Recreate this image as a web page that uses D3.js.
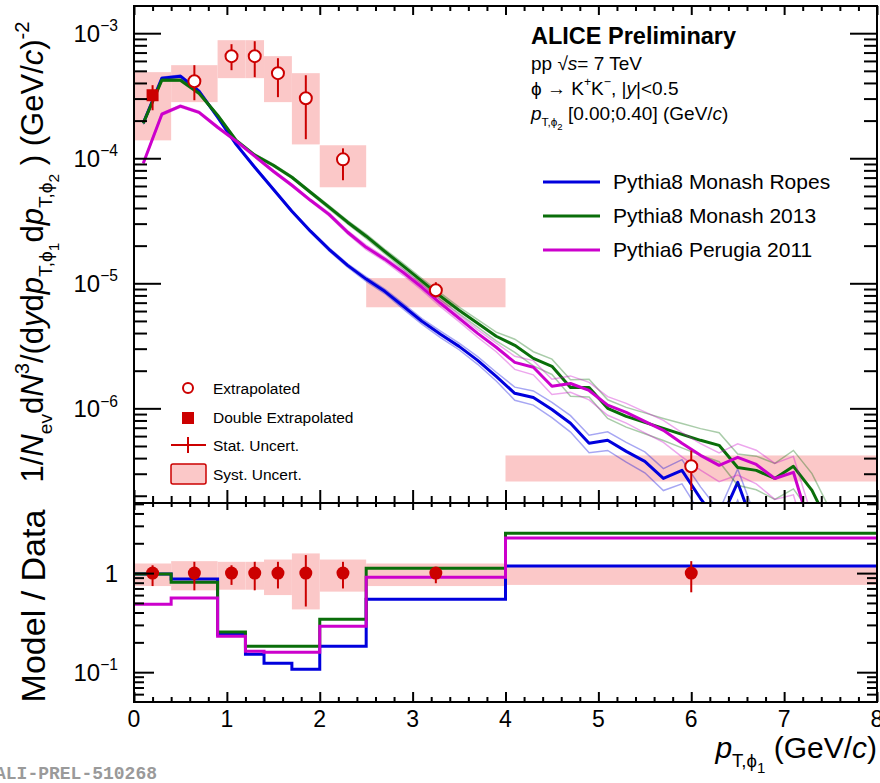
<!DOCTYPE html>
<html>
<head>
<meta charset="utf-8">
<script src="https://cdn.jsdelivr.net/npm/d3@7"></script>
<style>
  body { margin: 0; background: white; }
  svg { display: block; font-family: 'Liberation Sans', Arial, sans-serif; }
</style>
</head>
<body>
<svg id="chart"></svg>
<script>
// measured bins (GeV/c) and data points
const binEdges = [0, 0.4, 0.9, 1.2, 1.4, 1.7, 2.0, 2.5, 4.0, 8.0];
const binCenters = [0.2, 0.65, 1.05, 1.3, 1.55, 1.85, 2.25, 3.25, 6.0];
const dataVal = [3.19e-4, 4.13e-4, 6.55e-4, 6.55e-4, 4.79e-4, 3.02e-4, 9.8e-5, 8.79e-6, 3.44e-7];
const statHi = [3.84e-4, 5.55e-4, 8.17e-4, 8.63e-4, 6.31e-4, 4.61e-4, 1.2e-4, 1.02e-5, 4.6e-7];
const statLo = [2.42e-4, 2.91e-4, 5.06e-4, 4.45e-4, 3.08e-4, 1.42e-4, 6.67e-5, 7.7e-6, 2.2e-7];
const systHi = [4.88e-4, 5.55e-4, 8.79e-4, 8.79e-4, 6.55e-4, 4.79e-4, 1.27e-4, 1.1e-5, 4.2e-7];
const systLo = [1.39e-4, 2.81e-4, 4.37e-4, 4.37e-4, 2.81e-4, 1.29e-4, 5.86e-5, 6.43e-6, 2.6e-7];
const markerType = ['square', 'circle', 'circle', 'circle', 'circle', 'circle', 'circle', 'circle', 'circle'];

// model curves, pT bin centres
const mcPt = [0.1, 0.3, 0.5, 0.7, 0.9, 1.1, 1.3, 1.5, 1.7, 1.9, 2.1, 2.3, 2.5, 2.7, 2.9, 3.1, 3.3, 3.5, 3.7, 3.9,
  4.1, 4.3, 4.5, 4.7, 4.9, 5.1, 5.3, 5.5, 5.7, 5.9, 6.1, 6.3, 6.5, 6.7, 6.9, 7.1, 7.3, 7.5, 7.7, 7.9];
const ropes = [1.91e-4, 4.37e-4, 4.53e-4, 3.44e-4, 2.13e-4, 1.29e-4, 8.47e-5, 5.65e-5, 3.77e-5, 2.61e-5,
  1.87e-5, 1.39e-5, 1.08e-5, 8.63e-6, 6.55e-6, 4.97e-6, 3.91e-6, 3.13e-6, 2.42e-6, 1.8e-6,
  1.32e-6, 1.22e-6, 9.8e-7, 7.6e-7, 5.25e-7, 5.55e-7, 4.53e-7, 3.77e-7, 2.75e-7, 3.19e-7,
  1.9e-7, 1.2e-7, 2.56e-7, 1.0e-7, null, null, null, null, null, null];
const monash = [1.91e-4, 4.21e-4, 4.21e-4, 3.31e-4, 2.21e-4, 1.39e-4, 1.06e-4, 8.79e-5, 7.05e-5, 5.35e-5,
  4.06e-5, 3.08e-5, 2.38e-5, 1.8e-5, 1.37e-5, 1.04e-5, 7.87e-6, 6.08e-6, 4.79e-6, 3.77e-6,
  3.19e-6, 2.51e-6, 2.17e-6, 1.47e-6, 1.47e-6, 1.0e-6, 8.63e-7, 7.73e-7, 6.92e-7, 6.19e-7,
  5.55e-7, 5.06e-7, 3.37e-7, 3.19e-7, 2.75e-7, 3.44e-7, 2.21e-7, 1.1e-7, null, null];
const perugia = [9.12e-5, 2.25e-4, 2.61e-4, 2.33e-4, 1.77e-4, 1.37e-4, 1.04e-4, 7.87e-5, 6.08e-5, 4.61e-5,
  3.56e-5, 2.56e-5, 1.94e-5, 1.56e-5, 1.22e-5, 9.29e-6, 6.92e-6, 5.25e-6, 3.98e-6, 3.08e-6,
  2.33e-6, 2.13e-6, 1.5e-6, 1.58e-6, 1.39e-6, 1.06e-6, 9.29e-7, 7.87e-7, 6.67e-7, 5.25e-7,
  4.21e-7, 3.5e-7, 4.06e-7, 3.56e-7, 2.75e-7, 3.08e-7, 1.0e-7, null, null, null];
// relative statistical uncertainty of the model curves
const mcRelErr = [0.02, 0.02, 0.02, 0.02, 0.02, 0.02, 0.02, 0.02, 0.02, 0.02,
  0.03, 0.03, 0.04, 0.04, 0.05, 0.05, 0.06, 0.06, 0.07, 0.08,
  0.12, 0.13, 0.14, 0.15, 0.16, 0.17, 0.18, 0.19, 0.2, 0.22,
  0.24, 0.26, 0.28, 0.3, 0.32, 0.34, 0.36, 0.38, 0.4, 0.42];

// model / data ratios per measured bin
const ropesRatio = [0.98, 0.87, 0.24, 0.152, 0.123, 0.107, 0.183, 0.546, 1.18];
const monashRatio = [0.98, 0.81, 0.254, 0.183, 0.183, 0.183, 0.343, 1.12, 2.53];
const perugiaRatio = [0.486, 0.56, 0.23, 0.163, 0.159, 0.159, 0.29, 0.91, 2.26];
const dataRatio = [1, 1, 1, 1, 1, 1, 1, 1, 1];
const ratioStatHi = [1.2, 1.3, 1.2, 1.3, 1.3, 1.52, 1.3, 1.12, 1.32];
const ratioStatLo = [0.74, 0.67, 0.76, 0.67, 0.7, 0.46, 0.7, 0.79, 0.64];
const ratioSystHi = [1.25, 1.32, 1.3, 1.3, 1.37, 1.58, 1.37, 1.25, 1.2];
const ratioSystLo = [0.74, 0.67, 0.68, 0.68, 0.6, 0.43, 0.65, 0.74, 0.76];

const models = [
  { name: 'Pythia8 Monash Ropes', color: '#0000dd', values: ropes, ratio: ropesRatio },
  { name: 'Pythia8 Monash 2013', color: '#0a6e0a', values: monash, ratio: monashRatio },
  { name: 'Pythia6 Perugia 2011', color: '#cc00cc', values: perugia, ratio: perugiaRatio }
];

const xTicks = [0, 1, 2, 3, 4, 5, 6, 7, 8];
const topDecades = [1e-6, 1e-5, 1e-4, 1e-3];
const botDecades = [0.1, 1];

const RED = '#cc0000';
const PINK = '#fbc8c8';

function createGraph() {
  const width = 880, height = 783;
  const left = 134, right = 877;
  const top1 = 6, bot1 = 503, top2 = 503, bot2 = 702;

  const svg = d3.select('#chart');
  svg.selectAll('*').remove();
  svg.attr('width', width).attr('height', height).attr('viewBox', `0 0 ${width} ${height}`);

  const x = d3.scaleLinear().domain([0, 8]).range([left, right]);
  const yTop = d3.scaleLog().domain([1.75e-7, 1.65e-3]).range([bot1, top1]);
  const yBot = d3.scaleLog().domain([0.05, 5.1]).range([bot2, top2]);

  svg.append('defs').append('clipPath').attr('id', 'clipTop')
    .append('rect').attr('x', left).attr('y', top1).attr('width', right - left).attr('height', bot1 - top1);
  svg.select('defs').append('clipPath').attr('id', 'clipBot')
    .append('rect').attr('x', left).attr('y', top2).attr('width', right - left).attr('height', bot2 - top2);

  // ---------- top panel ----------
  const gTop = svg.append('g').attr('clip-path', 'url(#clipTop)');

  // syst boxes
  gTop.selectAll('rect.syst').data(dataVal).enter().append('rect')
    .attr('x', (d, i) => x(binEdges[i]))
    .attr('width', (d, i) => x(binEdges[i + 1]) - x(binEdges[i]))
    .attr('y', (d, i) => yTop(systHi[i]))
    .attr('height', (d, i) => yTop(systLo[i]) - yTop(systHi[i]))
    .attr('fill', PINK);

  // model curves with error bands
  models.forEach(m => {
    const pts = mcPt.map((p, i) => ({ p, v: m.values[i], e: mcRelErr[i] }));
    const line = k => d3.line().defined(d => d.v != null)
      .x(d => x(d.p)).y(d => yTop(d.v * (1 + k * d.e)));
    [1, -1].forEach(k => {
      gTop.append('path').datum(pts).attr('d', line(k))
        .attr('fill', 'none').attr('stroke', m.color).attr('stroke-opacity', 0.35).attr('stroke-width', 1.5);
    });
    gTop.append('path').datum(pts).attr('d', line(0))
      .attr('fill', 'none').attr('stroke', m.color).attr('stroke-width', 3).attr('stroke-linejoin', 'round');
  });

  // data points
  gTop.selectAll('line.stat').data(dataVal).enter().append('line')
    .attr('x1', (d, i) => x(binCenters[i])).attr('x2', (d, i) => x(binCenters[i]))
    .attr('y1', (d, i) => yTop(statHi[i])).attr('y2', (d, i) => yTop(statLo[i]))
    .attr('stroke', RED).attr('stroke-width', 2);
  dataVal.forEach((d, i) => {
    if (markerType[i] === 'square') {
      gTop.append('rect').attr('x', x(binCenters[i]) - 6).attr('y', yTop(d) - 6)
        .attr('width', 12).attr('height', 12).attr('fill', RED);
    } else {
      gTop.append('circle').attr('cx', x(binCenters[i])).attr('cy', yTop(d)).attr('r', 6)
        .attr('fill', 'white').attr('stroke', RED).attr('stroke-width', 2);
    }
  });

  // ---------- bottom panel ----------
  const gBot = svg.append('g').attr('clip-path', 'url(#clipBot)');
  gBot.selectAll('rect.syst').data(dataRatio).enter().append('rect')
    .attr('x', (d, i) => x(binEdges[i]))
    .attr('width', (d, i) => x(binEdges[i + 1]) - x(binEdges[i]))
    .attr('y', (d, i) => yBot(ratioSystHi[i]))
    .attr('height', (d, i) => yBot(ratioSystLo[i]) - yBot(ratioSystHi[i]))
    .attr('fill', PINK);

  const step = d3.line().curve(d3.curveStepAfter).x(d => x(d[0])).y(d => yBot(d[1]));
  models.forEach(m => {
    const pts = m.ratio.map((r, i) => [binEdges[i], r]);
    pts.push([8, m.ratio[m.ratio.length - 1]]);
    gBot.append('path').datum(pts).attr('d', step)
      .attr('fill', 'none').attr('stroke', m.color).attr('stroke-width', 3);
  });

  gBot.selectAll('line.stat').data(dataRatio).enter().append('line')
    .attr('x1', (d, i) => x(binCenters[i])).attr('x2', (d, i) => x(binCenters[i]))
    .attr('y1', (d, i) => yBot(ratioStatHi[i])).attr('y2', (d, i) => yBot(ratioStatLo[i]))
    .attr('stroke', RED).attr('stroke-width', 2);
  gBot.selectAll('circle.pt').data(dataRatio).enter().append('circle')
    .attr('cx', (d, i) => x(binCenters[i])).attr('cy', d => yBot(d)).attr('r', 6.5)
    .attr('fill', RED);

  // ---------- axes / ticks ----------
  const xMinor = d3.range(0, 8.01, 0.2).filter(v => Math.abs(v - Math.round(v)) > 1e-6);
  function logMinor(decades) {
    const out = [];
    decades.forEach(d => { for (let k = 2; k <= 9; k++) out.push(k * d / 10); });
    return out;
  }
  const topMinor = logMinor([1e-6, 1e-5, 1e-4, 1e-3, 1e-2]).filter(v => v > 1.75e-7 && v < 1.65e-3);
  const botMinor = logMinor([0.1, 1, 10]).filter(v => v > 0.05 && v < 5.1);

  function ticks(axisFn, scale, values, len, transform) {
    svg.append('g').attr('transform', transform)
      .call(axisFn(scale).tickValues(values).tickSize(-len).tickFormat(''))
      .call(g => g.select('.domain').remove())
      .selectAll('line').attr('stroke', 'black').attr('stroke-width', 2);
  }
  // top panel
  ticks(d3.axisBottom, x, xTicks, 13, `translate(0,${bot1})`);
  ticks(d3.axisBottom, x, xMinor, 7, `translate(0,${bot1})`);
  ticks(d3.axisTop, x, xTicks, 9, `translate(0,${top1})`);
  ticks(d3.axisTop, x, xMinor, 5, `translate(0,${top1})`);
  ticks(d3.axisLeft, yTop, topDecades, 27, `translate(${left},0)`);
  ticks(d3.axisLeft, yTop, topMinor, 13, `translate(${left},0)`);
  ticks(d3.axisRight, yTop, topDecades, 27, `translate(${right},0)`);
  ticks(d3.axisRight, yTop, topMinor, 13, `translate(${right},0)`);
  // bottom panel
  ticks(d3.axisBottom, x, xTicks, 10, `translate(0,${bot2})`);
  ticks(d3.axisBottom, x, xMinor, 5, `translate(0,${bot2})`);
  ticks(d3.axisTop, x, xTicks, 7, `translate(0,${top2})`);
  ticks(d3.axisTop, x, xMinor, 4, `translate(0,${top2})`);
  ticks(d3.axisLeft, yBot, botDecades, 20, `translate(${left},0)`);
  ticks(d3.axisLeft, yBot, botMinor, 10, `translate(${left},0)`);
  ticks(d3.axisRight, yBot, botDecades, 20, `translate(${right},0)`);
  ticks(d3.axisRight, yBot, botMinor, 10, `translate(${right},0)`);

  // frames
  svg.append('rect').attr('x', left).attr('y', top1).attr('width', right - left).attr('height', bot1 - top1)
    .attr('fill', 'none').attr('stroke', 'black').attr('stroke-width', 2);
  svg.append('rect').attr('x', left).attr('y', top2).attr('width', right - left).attr('height', bot2 - top2)
    .attr('fill', 'none').attr('stroke', 'black').attr('stroke-width', 2);

  // rich text helper: parts = [text, style] with style among 'i', 'sub', 'sub2', 'sup'
  function rich(t, parts, fs) {
    let cur = 0;
    parts.forEach(([s, st]) => {
      let off = 0, size = fs, ital = false;
      if (st === 'i') ital = true;
      if (st === 'sub') { off = 0.3 * fs; size = 0.62 * fs; }
      if (st === 'sub2') { off = 0.5 * fs; size = 0.5 * fs; }
      if (st === 'sup') { off = -0.45 * fs; size = 0.65 * fs; }
      t.append('tspan').attr('dy', off - cur).attr('font-size', size)
        .style('font-style', ital ? 'italic' : 'normal').text(s);
      cur = off;
    });
    return t;
  }

  // tick labels
  topDecades.forEach(d => {
    const t = svg.append('text').attr('x', 118).attr('y', yTop(d) + 9).attr('text-anchor', 'end');
    rich(t, [['10'], ['\u2212' + (-Math.log10(d)).toFixed(0), 'sup']], 24);
  });
  botDecades.forEach(d => {
    const t = svg.append('text').attr('x', 118).attr('y', yBot(d) + 9).attr('text-anchor', 'end');
    if (d === 1) rich(t, [['1']], 24);
    else rich(t, [['10'], ['\u2212' + (-Math.log10(d)).toFixed(0), 'sup']], 24);
  });
  svg.selectAll('text.xl').data(xTicks).enter().append('text')
    .attr('x', d => x(d)).attr('y', 727).attr('text-anchor', 'middle')
    .attr('font-size', 23).text(d => d);

  // axis titles
  rich(svg.append('text').attr('text-anchor', 'end').attr('x', 877).attr('y', 758),
    [['p', 'i'], ['T,\u03d5', 'sub'], ['1', 'sub2'], [' ', 'n'], [' (GeV/'], ['c', 'i'], [')']], 30);
  rich(svg.append('text').attr('text-anchor', 'middle')
    .attr('transform', 'translate(43,252) rotate(-90)'),
    [['1/'], ['N', 'i'], ['ev', 'sub'], ['d'], ['N', 'i'], ['3', 'sup'], ['/(d'], ['y', 'i'], ['d'], ['p', 'i'],
     ['T,\u03d5', 'sub'], ['1', 'sub2'], ['d', 'n'], ['p', 'i'], ['T,\u03d5', 'sub'], ['2', 'sub2'],
     [' ) (GeV/', 'n'], ['c', 'i'], [')'], ['-2', 'sup']], 31);
  svg.append('text').attr('text-anchor', 'middle').attr('transform', 'translate(45,606) rotate(-90)')
    .attr('font-size', 34).text('Model / Data');

  // header text
  svg.append('text').attr('x', 531).attr('y', 44).attr('font-size', 23.5).attr('font-weight', 'bold')
    .text('ALICE Preliminary');
  rich(svg.append('text').attr('x', 531).attr('y', 70), [['pp \u221a'], ['s', 'i'], ['= 7 TeV']], 19);
  rich(svg.append('text').attr('x', 531).attr('y', 95),
    [['\u03d5 \u2192 K'], ['+', 'sup'], ['K'], ['\u2212', 'sup'], [', |'], ['y', 'i'], ['|<0.5']], 19);
  rich(svg.append('text').attr('x', 531).attr('y', 120),
    [['p', 'i'], ['T,\u03d5', 'sub'], ['2', 'sub2'], [' [0.00;0.40] (GeV/', 'n'], ['c', 'i'], [')']], 19);

  // model legend
  const leg = svg.append('g');
  models.forEach((m, i) => {
    const ly = 182 + i * 34;
    leg.append('line').attr('x1', 543).attr('x2', 600).attr('y1', ly).attr('y2', ly)
      .attr('stroke', m.color).attr('stroke-width', 3);
    leg.append('text').attr('x', 613).attr('y', ly + 7).attr('font-size', 21).text(m.name);
  });

  // data legend
  const dl = svg.append('g').attr('font-size', 15.5);
  dl.append('circle').attr('cx', 188).attr('cy', 388).attr('r', 5).attr('fill', 'white')
    .attr('stroke', RED).attr('stroke-width', 2);
  dl.append('text').attr('x', 213).attr('y', 394).text('Extrapolated');
  dl.append('rect').attr('x', 182).attr('y', 412).attr('width', 12).attr('height', 12).attr('fill', RED);
  dl.append('text').attr('x', 213).attr('y', 423).text('Double Extrapolated');
  dl.append('line').attr('x1', 171).attr('x2', 206).attr('y1', 445).attr('y2', 445).attr('stroke', RED).attr('stroke-width', 2);
  dl.append('line').attr('x1', 188).attr('x2', 188).attr('y1', 437).attr('y2', 453).attr('stroke', RED).attr('stroke-width', 2);
  dl.append('text').attr('x', 213).attr('y', 451).text('Stat. Uncert.');
  dl.append('rect').attr('x', 171).attr('y', 464).attr('width', 35).attr('height', 20)
    .attr('fill', PINK).attr('stroke', RED).attr('stroke-width', 1.5).attr('rx', 2);
  dl.append('text').attr('x', 213).attr('y', 480).text('Syst. Uncert.');

  // preliminary id
  svg.append('text').attr('x', -5).attr('y', 779).attr('font-family', "'Liberation Mono', monospace")
    .attr('font-size', 18).attr('font-weight', 'bold').attr('fill', '#9a9a9a').text('ALI-PREL-510268');
}

createGraph();
</script>
</body>
</html>
